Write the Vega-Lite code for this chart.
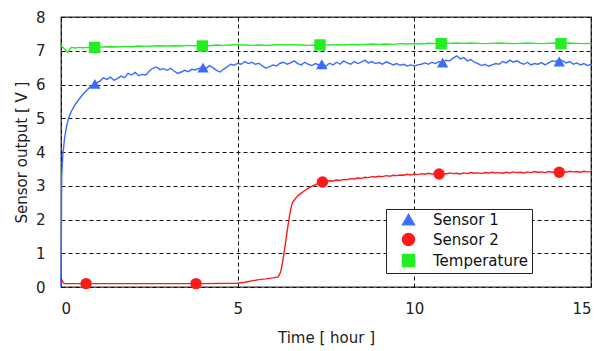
{
  "$schema": "https://vega.github.io/schema/vega-lite/v6.json",
  "width": 530,
  "height": 270,
  "autosize": {"type": "none"},
  "padding": {"left": 61, "top": 17, "right": 14, "bottom": 64},
  "background": "white",
  "config": {
    "font": "DejaVu Sans",
    "view": {"stroke": "#333", "strokeWidth": 1.3},
    "axis": {
      "labelFont": "DejaVu Sans",
      "titleFont": "DejaVu Sans",
      "labelFontSize": 15,
      "titleFontSize": 15,
      "titleFontWeight": "normal",
      "labelColor": "#222",
      "titleColor": "#222",
      "ticks": false,
      "domain": false,
      "grid": true,
      "gridColor": "#111",
      "gridDash": [4, 3],
      "gridWidth": 1,
      "gridOpacity": 1
    }
  },
  "datasets": {
    "lines": [
      {"s": "Temperature", "t": 0, "v": 7.15}, {"s": "Temperature", "t": 0.05, "v": 7.1}, {"s": "Temperature", "t": 0.1, "v": 7.05}, {"s": "Temperature", "t": 0.15, "v": 7.0}, {"s": "Temperature", "t": 0.2, "v": 6.95}, {"s": "Temperature", "t": 0.25, "v": 7.06}, {"s": "Temperature", "t": 0.3, "v": 7.1}, {"s": "Temperature", "t": 0.4, "v": 7.08}, {"s": "Temperature", "t": 0.5, "v": 7.1}, {"s": "Temperature", "t": 0.6, "v": 7.09}, {"s": "Temperature", "t": 0.8, "v": 7.1}, {"s": "Temperature", "t": 1.0, "v": 7.1}, {"s": "Temperature", "t": 1.2, "v": 7.11}, {"s": "Temperature", "t": 1.4, "v": 7.12}, {"s": "Temperature", "t": 1.6, "v": 7.11}, {"s": "Temperature", "t": 1.8, "v": 7.13}, {"s": "Temperature", "t": 2.0, "v": 7.12}, {"s": "Temperature", "t": 2.2, "v": 7.14}, {"s": "Temperature", "t": 2.4, "v": 7.13}, {"s": "Temperature", "t": 2.6, "v": 7.14}, {"s": "Temperature", "t": 2.8, "v": 7.15}, {"s": "Temperature", "t": 3.0, "v": 7.14}, {"s": "Temperature", "t": 3.2, "v": 7.15}, {"s": "Temperature", "t": 3.4, "v": 7.14}, {"s": "Temperature", "t": 3.6, "v": 7.16}, {"s": "Temperature", "t": 3.8, "v": 7.15}, {"s": "Temperature", "t": 4.0, "v": 7.16}, {"s": "Temperature", "t": 4.2, "v": 7.15}, {"s": "Temperature", "t": 4.4, "v": 7.17}, {"s": "Temperature", "t": 4.6, "v": 7.16}, {"s": "Temperature", "t": 4.8, "v": 7.17}, {"s": "Temperature", "t": 5.0, "v": 7.18}, {"s": "Temperature", "t": 5.2, "v": 7.17}, {"s": "Temperature", "t": 5.4, "v": 7.16}, {"s": "Temperature", "t": 5.6, "v": 7.17}, {"s": "Temperature", "t": 5.8, "v": 7.16}, {"s": "Temperature", "t": 6.0, "v": 7.17}, {"s": "Temperature", "t": 6.2, "v": 7.18}, {"s": "Temperature", "t": 6.4, "v": 7.17}, {"s": "Temperature", "t": 6.6, "v": 7.18}, {"s": "Temperature", "t": 6.8, "v": 7.17}, {"s": "Temperature", "t": 7.0, "v": 7.16}, {"s": "Temperature", "t": 7.2, "v": 7.17}, {"s": "Temperature", "t": 7.4, "v": 7.16}, {"s": "Temperature", "t": 7.6, "v": 7.17}, {"s": "Temperature", "t": 7.8, "v": 7.18}, {"s": "Temperature", "t": 8.0, "v": 7.17}, {"s": "Temperature", "t": 8.2, "v": 7.19}, {"s": "Temperature", "t": 8.4, "v": 7.18}, {"s": "Temperature", "t": 8.6, "v": 7.19}, {"s": "Temperature", "t": 8.8, "v": 7.2}, {"s": "Temperature", "t": 9.0, "v": 7.19}, {"s": "Temperature", "t": 9.2, "v": 7.2}, {"s": "Temperature", "t": 9.4, "v": 7.19}, {"s": "Temperature", "t": 9.6, "v": 7.21}, {"s": "Temperature", "t": 9.8, "v": 7.2}, {"s": "Temperature", "t": 10.0, "v": 7.21}, {"s": "Temperature", "t": 10.2, "v": 7.2}, {"s": "Temperature", "t": 10.4, "v": 7.22}, {"s": "Temperature", "t": 10.6, "v": 7.21}, {"s": "Temperature", "t": 10.8, "v": 7.23}, {"s": "Temperature", "t": 11.0, "v": 7.22}, {"s": "Temperature", "t": 11.2, "v": 7.23}, {"s": "Temperature", "t": 11.4, "v": 7.22}, {"s": "Temperature", "t": 11.6, "v": 7.23}, {"s": "Temperature", "t": 11.8, "v": 7.22}, {"s": "Temperature", "t": 12.0, "v": 7.21}, {"s": "Temperature", "t": 12.2, "v": 7.22}, {"s": "Temperature", "t": 12.4, "v": 7.23}, {"s": "Temperature", "t": 12.6, "v": 7.22}, {"s": "Temperature", "t": 12.8, "v": 7.21}, {"s": "Temperature", "t": 13.0, "v": 7.22}, {"s": "Temperature", "t": 13.2, "v": 7.23}, {"s": "Temperature", "t": 13.4, "v": 7.22}, {"s": "Temperature", "t": 13.6, "v": 7.21}, {"s": "Temperature", "t": 13.8, "v": 7.22}, {"s": "Temperature", "t": 14.0, "v": 7.23}, {"s": "Temperature", "t": 14.2, "v": 7.22}, {"s": "Temperature", "t": 14.4, "v": 7.23}, {"s": "Temperature", "t": 14.6, "v": 7.22}, {"s": "Temperature", "t": 14.8, "v": 7.21}, {"s": "Temperature", "t": 15.0, "v": 7.22},

      {"s": "Sensor 1", "t": 0, "v": 0}, {"s": "Sensor 1", "t": 0.02, "v": 3.3}, {"s": "Sensor 1", "t": 0.05, "v": 3.9}, {"s": "Sensor 1", "t": 0.1, "v": 4.4}, {"s": "Sensor 1", "t": 0.15, "v": 4.72}, {"s": "Sensor 1", "t": 0.2, "v": 4.95}, {"s": "Sensor 1", "t": 0.25, "v": 5.1}, {"s": "Sensor 1", "t": 0.3, "v": 5.22}, {"s": "Sensor 1", "t": 0.4, "v": 5.4}, {"s": "Sensor 1", "t": 0.5, "v": 5.55}, {"s": "Sensor 1", "t": 0.6, "v": 5.68}, {"s": "Sensor 1", "t": 0.7, "v": 5.8}, {"s": "Sensor 1", "t": 0.8, "v": 5.9}, {"s": "Sensor 1", "t": 0.9, "v": 5.98}, {"s": "Sensor 1", "t": 1.0, "v": 6.04},
      {"s": "Sensor 1", "t": 1.1, "v": 6.1}, {"s": "Sensor 1", "t": 1.2, "v": 6.2}, {"s": "Sensor 1", "t": 1.3, "v": 6.15}, {"s": "Sensor 1", "t": 1.4, "v": 6.22}, {"s": "Sensor 1", "t": 1.5, "v": 6.12}, {"s": "Sensor 1", "t": 1.6, "v": 6.18}, {"s": "Sensor 1", "t": 1.7, "v": 6.25}, {"s": "Sensor 1", "t": 1.8, "v": 6.2}, {"s": "Sensor 1", "t": 1.9, "v": 6.33}, {"s": "Sensor 1", "t": 2.0, "v": 6.28},
      {"s": "Sensor 1", "t": 2.1, "v": 6.36}, {"s": "Sensor 1", "t": 2.2, "v": 6.26}, {"s": "Sensor 1", "t": 2.3, "v": 6.3}, {"s": "Sensor 1", "t": 2.4, "v": 6.28}, {"s": "Sensor 1", "t": 2.5, "v": 6.4}, {"s": "Sensor 1", "t": 2.6, "v": 6.48}, {"s": "Sensor 1", "t": 2.7, "v": 6.52}, {"s": "Sensor 1", "t": 2.8, "v": 6.44}, {"s": "Sensor 1", "t": 2.9, "v": 6.47}, {"s": "Sensor 1", "t": 3.0, "v": 6.42},
      {"s": "Sensor 1", "t": 3.1, "v": 6.48}, {"s": "Sensor 1", "t": 3.2, "v": 6.4}, {"s": "Sensor 1", "t": 3.3, "v": 6.33}, {"s": "Sensor 1", "t": 3.4, "v": 6.37}, {"s": "Sensor 1", "t": 3.5, "v": 6.42}, {"s": "Sensor 1", "t": 3.6, "v": 6.38}, {"s": "Sensor 1", "t": 3.7, "v": 6.45}, {"s": "Sensor 1", "t": 3.8, "v": 6.43}, {"s": "Sensor 1", "t": 3.9, "v": 6.48}, {"s": "Sensor 1", "t": 4.0, "v": 6.5},
      {"s": "Sensor 1", "t": 4.1, "v": 6.47}, {"s": "Sensor 1", "t": 4.2, "v": 6.56}, {"s": "Sensor 1", "t": 4.3, "v": 6.5}, {"s": "Sensor 1", "t": 4.4, "v": 6.42}, {"s": "Sensor 1", "t": 4.5, "v": 6.37}, {"s": "Sensor 1", "t": 4.6, "v": 6.45}, {"s": "Sensor 1", "t": 4.7, "v": 6.52}, {"s": "Sensor 1", "t": 4.8, "v": 6.6}, {"s": "Sensor 1", "t": 4.9, "v": 6.57}, {"s": "Sensor 1", "t": 5.0, "v": 6.63},
      {"s": "Sensor 1", "t": 5.1, "v": 6.6}, {"s": "Sensor 1", "t": 5.2, "v": 6.68}, {"s": "Sensor 1", "t": 5.3, "v": 6.62}, {"s": "Sensor 1", "t": 5.4, "v": 6.66}, {"s": "Sensor 1", "t": 5.5, "v": 6.6}, {"s": "Sensor 1", "t": 5.6, "v": 6.63}, {"s": "Sensor 1", "t": 5.7, "v": 6.55}, {"s": "Sensor 1", "t": 5.8, "v": 6.48}, {"s": "Sensor 1", "t": 5.9, "v": 6.53}, {"s": "Sensor 1", "t": 6.0, "v": 6.58},
      {"s": "Sensor 1", "t": 6.1, "v": 6.55}, {"s": "Sensor 1", "t": 6.2, "v": 6.63}, {"s": "Sensor 1", "t": 6.3, "v": 6.66}, {"s": "Sensor 1", "t": 6.4, "v": 6.6}, {"s": "Sensor 1", "t": 6.5, "v": 6.64}, {"s": "Sensor 1", "t": 6.6, "v": 6.7}, {"s": "Sensor 1", "t": 6.7, "v": 6.62}, {"s": "Sensor 1", "t": 6.8, "v": 6.58}, {"s": "Sensor 1", "t": 6.9, "v": 6.66}, {"s": "Sensor 1", "t": 7.0, "v": 6.6},
      {"s": "Sensor 1", "t": 7.1, "v": 6.56}, {"s": "Sensor 1", "t": 7.2, "v": 6.62}, {"s": "Sensor 1", "t": 7.3, "v": 6.58}, {"s": "Sensor 1", "t": 7.4, "v": 6.6}, {"s": "Sensor 1", "t": 7.5, "v": 6.55}, {"s": "Sensor 1", "t": 7.6, "v": 6.63}, {"s": "Sensor 1", "t": 7.7, "v": 6.58}, {"s": "Sensor 1", "t": 7.8, "v": 6.66}, {"s": "Sensor 1", "t": 7.9, "v": 6.6}, {"s": "Sensor 1", "t": 8.0, "v": 6.7},
      {"s": "Sensor 1", "t": 8.1, "v": 6.64}, {"s": "Sensor 1", "t": 8.2, "v": 6.6}, {"s": "Sensor 1", "t": 8.3, "v": 6.68}, {"s": "Sensor 1", "t": 8.4, "v": 6.62}, {"s": "Sensor 1", "t": 8.5, "v": 6.66}, {"s": "Sensor 1", "t": 8.6, "v": 6.72}, {"s": "Sensor 1", "t": 8.7, "v": 6.64}, {"s": "Sensor 1", "t": 8.8, "v": 6.68}, {"s": "Sensor 1", "t": 8.9, "v": 6.62}, {"s": "Sensor 1", "t": 9.0, "v": 6.65},
      {"s": "Sensor 1", "t": 9.1, "v": 6.6}, {"s": "Sensor 1", "t": 9.2, "v": 6.67}, {"s": "Sensor 1", "t": 9.3, "v": 6.63}, {"s": "Sensor 1", "t": 9.4, "v": 6.58}, {"s": "Sensor 1", "t": 9.5, "v": 6.62}, {"s": "Sensor 1", "t": 9.6, "v": 6.57}, {"s": "Sensor 1", "t": 9.7, "v": 6.6}, {"s": "Sensor 1", "t": 9.8, "v": 6.55}, {"s": "Sensor 1", "t": 9.9, "v": 6.58}, {"s": "Sensor 1", "t": 10.0, "v": 6.55},
      {"s": "Sensor 1", "t": 10.1, "v": 6.58}, {"s": "Sensor 1", "t": 10.2, "v": 6.6}, {"s": "Sensor 1", "t": 10.3, "v": 6.64}, {"s": "Sensor 1", "t": 10.4, "v": 6.6}, {"s": "Sensor 1", "t": 10.5, "v": 6.66}, {"s": "Sensor 1", "t": 10.6, "v": 6.62}, {"s": "Sensor 1", "t": 10.7, "v": 6.68}, {"s": "Sensor 1", "t": 10.8, "v": 6.65}, {"s": "Sensor 1", "t": 10.9, "v": 6.72}, {"s": "Sensor 1", "t": 11.0, "v": 6.7},
      {"s": "Sensor 1", "t": 11.1, "v": 6.78}, {"s": "Sensor 1", "t": 11.2, "v": 6.85}, {"s": "Sensor 1", "t": 11.3, "v": 6.76}, {"s": "Sensor 1", "t": 11.4, "v": 6.8}, {"s": "Sensor 1", "t": 11.5, "v": 6.7}, {"s": "Sensor 1", "t": 11.6, "v": 6.74}, {"s": "Sensor 1", "t": 11.7, "v": 6.66}, {"s": "Sensor 1", "t": 11.8, "v": 6.62}, {"s": "Sensor 1", "t": 11.9, "v": 6.56}, {"s": "Sensor 1", "t": 12.0, "v": 6.6},
      {"s": "Sensor 1", "t": 12.1, "v": 6.54}, {"s": "Sensor 1", "t": 12.2, "v": 6.58}, {"s": "Sensor 1", "t": 12.3, "v": 6.62}, {"s": "Sensor 1", "t": 12.4, "v": 6.6}, {"s": "Sensor 1", "t": 12.5, "v": 6.68}, {"s": "Sensor 1", "t": 12.6, "v": 6.64}, {"s": "Sensor 1", "t": 12.7, "v": 6.72}, {"s": "Sensor 1", "t": 12.8, "v": 6.66}, {"s": "Sensor 1", "t": 12.9, "v": 6.7}, {"s": "Sensor 1", "t": 13.0, "v": 6.64},
      {"s": "Sensor 1", "t": 13.1, "v": 6.6}, {"s": "Sensor 1", "t": 13.2, "v": 6.66}, {"s": "Sensor 1", "t": 13.3, "v": 6.58}, {"s": "Sensor 1", "t": 13.4, "v": 6.62}, {"s": "Sensor 1", "t": 13.5, "v": 6.6}, {"s": "Sensor 1", "t": 13.6, "v": 6.65}, {"s": "Sensor 1", "t": 13.7, "v": 6.58}, {"s": "Sensor 1", "t": 13.8, "v": 6.64}, {"s": "Sensor 1", "t": 13.9, "v": 6.7}, {"s": "Sensor 1", "t": 14.0, "v": 6.68},
      {"s": "Sensor 1", "t": 14.1, "v": 6.74}, {"s": "Sensor 1", "t": 14.2, "v": 6.7}, {"s": "Sensor 1", "t": 14.3, "v": 6.64}, {"s": "Sensor 1", "t": 14.4, "v": 6.68}, {"s": "Sensor 1", "t": 14.5, "v": 6.6}, {"s": "Sensor 1", "t": 14.6, "v": 6.64}, {"s": "Sensor 1", "t": 14.7, "v": 6.58}, {"s": "Sensor 1", "t": 14.8, "v": 6.62}, {"s": "Sensor 1", "t": 14.9, "v": 6.56}, {"s": "Sensor 1", "t": 15.0, "v": 6.6},

      {"s": "Sensor 2", "t": 0, "v": 0.15}, {"s": "Sensor 2", "t": 0.03, "v": 0.2}, {"s": "Sensor 2", "t": 0.06, "v": 0.13}, {"s": "Sensor 2", "t": 0.1, "v": 0.1}, {"s": "Sensor 2", "t": 1.0, "v": 0.1}, {"s": "Sensor 2", "t": 2.0, "v": 0.1}, {"s": "Sensor 2", "t": 3.0, "v": 0.1}, {"s": "Sensor 2", "t": 4.0, "v": 0.1}, {"s": "Sensor 2", "t": 5.0, "v": 0.11}, {"s": "Sensor 2", "t": 5.2, "v": 0.14}, {"s": "Sensor 2", "t": 5.4, "v": 0.18}, {"s": "Sensor 2", "t": 5.6, "v": 0.22}, {"s": "Sensor 2", "t": 5.8, "v": 0.24}, {"s": "Sensor 2", "t": 6.0, "v": 0.27}, {"s": "Sensor 2", "t": 6.15, "v": 0.3}, {"s": "Sensor 2", "t": 6.22, "v": 0.45}, {"s": "Sensor 2", "t": 6.28, "v": 0.8}, {"s": "Sensor 2", "t": 6.34, "v": 1.2}, {"s": "Sensor 2", "t": 6.4, "v": 1.65}, {"s": "Sensor 2", "t": 6.45, "v": 2.0}, {"s": "Sensor 2", "t": 6.5, "v": 2.3}, {"s": "Sensor 2", "t": 6.55, "v": 2.5}, {"s": "Sensor 2", "t": 6.62, "v": 2.6}, {"s": "Sensor 2", "t": 6.7, "v": 2.7}, {"s": "Sensor 2", "t": 6.8, "v": 2.78}, {"s": "Sensor 2", "t": 6.9, "v": 2.86}, {"s": "Sensor 2", "t": 7.0, "v": 2.93},
      {"s": "Sensor 2", "t": 7.1, "v": 2.99}, {"s": "Sensor 2", "t": 7.2, "v": 3.03}, {"s": "Sensor 2", "t": 7.3, "v": 3.08}, {"s": "Sensor 2", "t": 7.4, "v": 3.11}, {"s": "Sensor 2", "t": 7.5, "v": 3.13}, {"s": "Sensor 2", "t": 7.6, "v": 3.15}, {"s": "Sensor 2", "t": 7.7, "v": 3.14}, {"s": "Sensor 2", "t": 7.8, "v": 3.17}, {"s": "Sensor 2", "t": 7.9, "v": 3.16}, {"s": "Sensor 2", "t": 8.0, "v": 3.19},
      {"s": "Sensor 2", "t": 8.1, "v": 3.18}, {"s": "Sensor 2", "t": 8.2, "v": 3.21}, {"s": "Sensor 2", "t": 8.3, "v": 3.2}, {"s": "Sensor 2", "t": 8.4, "v": 3.23}, {"s": "Sensor 2", "t": 8.5, "v": 3.22}, {"s": "Sensor 2", "t": 8.6, "v": 3.25}, {"s": "Sensor 2", "t": 8.7, "v": 3.24}, {"s": "Sensor 2", "t": 8.8, "v": 3.27}, {"s": "Sensor 2", "t": 8.9, "v": 3.26}, {"s": "Sensor 2", "t": 9.0, "v": 3.28},
      {"s": "Sensor 2", "t": 9.1, "v": 3.27}, {"s": "Sensor 2", "t": 9.2, "v": 3.3}, {"s": "Sensor 2", "t": 9.3, "v": 3.28}, {"s": "Sensor 2", "t": 9.4, "v": 3.31}, {"s": "Sensor 2", "t": 9.5, "v": 3.3}, {"s": "Sensor 2", "t": 9.6, "v": 3.32}, {"s": "Sensor 2", "t": 9.7, "v": 3.31}, {"s": "Sensor 2", "t": 9.8, "v": 3.34}, {"s": "Sensor 2", "t": 9.9, "v": 3.32}, {"s": "Sensor 2", "t": 10.0, "v": 3.35},
      {"s": "Sensor 2", "t": 10.1, "v": 3.33}, {"s": "Sensor 2", "t": 10.2, "v": 3.36}, {"s": "Sensor 2", "t": 10.3, "v": 3.34}, {"s": "Sensor 2", "t": 10.4, "v": 3.37}, {"s": "Sensor 2", "t": 10.5, "v": 3.35}, {"s": "Sensor 2", "t": 10.6, "v": 3.36}, {"s": "Sensor 2", "t": 10.7, "v": 3.35}, {"s": "Sensor 2", "t": 10.8, "v": 3.37}, {"s": "Sensor 2", "t": 10.9, "v": 3.35}, {"s": "Sensor 2", "t": 11.0, "v": 3.38},
      {"s": "Sensor 2", "t": 11.1, "v": 3.36}, {"s": "Sensor 2", "t": 11.2, "v": 3.37}, {"s": "Sensor 2", "t": 11.3, "v": 3.35}, {"s": "Sensor 2", "t": 11.4, "v": 3.38}, {"s": "Sensor 2", "t": 11.5, "v": 3.36}, {"s": "Sensor 2", "t": 11.6, "v": 3.39}, {"s": "Sensor 2", "t": 11.7, "v": 3.37}, {"s": "Sensor 2", "t": 11.8, "v": 3.38}, {"s": "Sensor 2", "t": 11.9, "v": 3.36}, {"s": "Sensor 2", "t": 12.0, "v": 3.39},
      {"s": "Sensor 2", "t": 12.1, "v": 3.37}, {"s": "Sensor 2", "t": 12.2, "v": 3.4}, {"s": "Sensor 2", "t": 12.3, "v": 3.38}, {"s": "Sensor 2", "t": 12.4, "v": 3.39}, {"s": "Sensor 2", "t": 12.5, "v": 3.37}, {"s": "Sensor 2", "t": 12.6, "v": 3.4}, {"s": "Sensor 2", "t": 12.7, "v": 3.38}, {"s": "Sensor 2", "t": 12.8, "v": 3.41}, {"s": "Sensor 2", "t": 12.9, "v": 3.39}, {"s": "Sensor 2", "t": 13.0, "v": 3.4},
      {"s": "Sensor 2", "t": 13.1, "v": 3.38}, {"s": "Sensor 2", "t": 13.2, "v": 3.41}, {"s": "Sensor 2", "t": 13.3, "v": 3.39}, {"s": "Sensor 2", "t": 13.4, "v": 3.42}, {"s": "Sensor 2", "t": 13.5, "v": 3.4}, {"s": "Sensor 2", "t": 13.6, "v": 3.41}, {"s": "Sensor 2", "t": 13.7, "v": 3.39}, {"s": "Sensor 2", "t": 13.8, "v": 3.42}, {"s": "Sensor 2", "t": 13.9, "v": 3.4}, {"s": "Sensor 2", "t": 14.0, "v": 3.41},
      {"s": "Sensor 2", "t": 14.1, "v": 3.4}, {"s": "Sensor 2", "t": 14.2, "v": 3.42}, {"s": "Sensor 2", "t": 14.3, "v": 3.4}, {"s": "Sensor 2", "t": 14.4, "v": 3.43}, {"s": "Sensor 2", "t": 14.5, "v": 3.41}, {"s": "Sensor 2", "t": 14.6, "v": 3.42}, {"s": "Sensor 2", "t": 14.7, "v": 3.4}, {"s": "Sensor 2", "t": 14.8, "v": 3.43}, {"s": "Sensor 2", "t": 14.9, "v": 3.41}, {"s": "Sensor 2", "t": 15.0, "v": 3.42}
    ],
    "markers": [
      {"s": "Temperature", "t": 0.95, "v": 7.1}, {"s": "Temperature", "t": 4.0, "v": 7.14}, {"s": "Temperature", "t": 7.33, "v": 7.17}, {"s": "Temperature", "t": 10.76, "v": 7.21}, {"s": "Temperature", "t": 14.15, "v": 7.21},
      {"s": "Sensor 1", "t": 0.96, "v": 6.02}, {"s": "Sensor 1", "t": 4.02, "v": 6.5}, {"s": "Sensor 1", "t": 7.38, "v": 6.6}, {"s": "Sensor 1", "t": 10.8, "v": 6.65}, {"s": "Sensor 1", "t": 14.1, "v": 6.68},
      {"s": "Sensor 2", "t": 0.71, "v": 0.1}, {"s": "Sensor 2", "t": 3.82, "v": 0.1}, {"s": "Sensor 2", "t": 7.4, "v": 3.11}, {"s": "Sensor 2", "t": 10.7, "v": 3.35}, {"s": "Sensor 2", "t": 14.1, "v": 3.4}
    ]
  },
  "encoding": {
    "x": {
      "field": "t", "type": "quantitative",
      "scale": {"domain": [0, 15], "nice": false, "zero": false},
      "axis": {"values": [0, 5, 10, 15], "title": "Time [ hour ]", "labelPadding": 14, "titlePadding": 14}
    },
    "y": {
      "field": "v", "type": "quantitative",
      "scale": {"domain": [0, 8], "nice": false},
      "axis": {"values": [0, 1, 2, 3, 4, 5, 6, 7, 8], "title": "Sensor output [ V ]", "labelPadding": 16, "titlePadding": 6}
    },
    "color": {
      "field": "s", "type": "nominal",
      "scale": {"domain": ["Sensor 1", "Sensor 2", "Temperature"], "range": ["#3a6cff", "#ff1a1a", "#22ee22"]},
      "legend": {
        "title": null,
        "orient": "none",
        "legendX": 325,
        "legendY": 192,
        "strokeColor": "#222",
        "fillColor": "white",
        "padding": 3,
        "rowPadding": 2,
        "symbolSize": 150,
        "symbolOffset": 12,
        "symbolStrokeWidth": 1.2,
        "labelOffset": 17,
        "labelFontSize": 15,
        "labelFont": "DejaVu Sans",
        "labelColor": "#111"
      }
    }
  },
  "layer": [
    {
      "data": {"name": "lines"},
      "mark": {"type": "line", "strokeWidth": 1.4, "interpolate": "linear"},
      "encoding": {"detail": {"field": "s", "type": "nominal"}, "order": {"field": "t", "type": "quantitative"}}
    },
    {
      "data": {"name": "markers"},
      "mark": {"type": "point", "filled": true, "opacity": 1, "size": 130},
      "encoding": {
        "shape": {
          "field": "s", "type": "nominal",
          "scale": {"domain": ["Sensor 1", "Sensor 2", "Temperature"], "range": ["triangle-up", "circle", "square"]}
        }
      }
    }
  ]
}
